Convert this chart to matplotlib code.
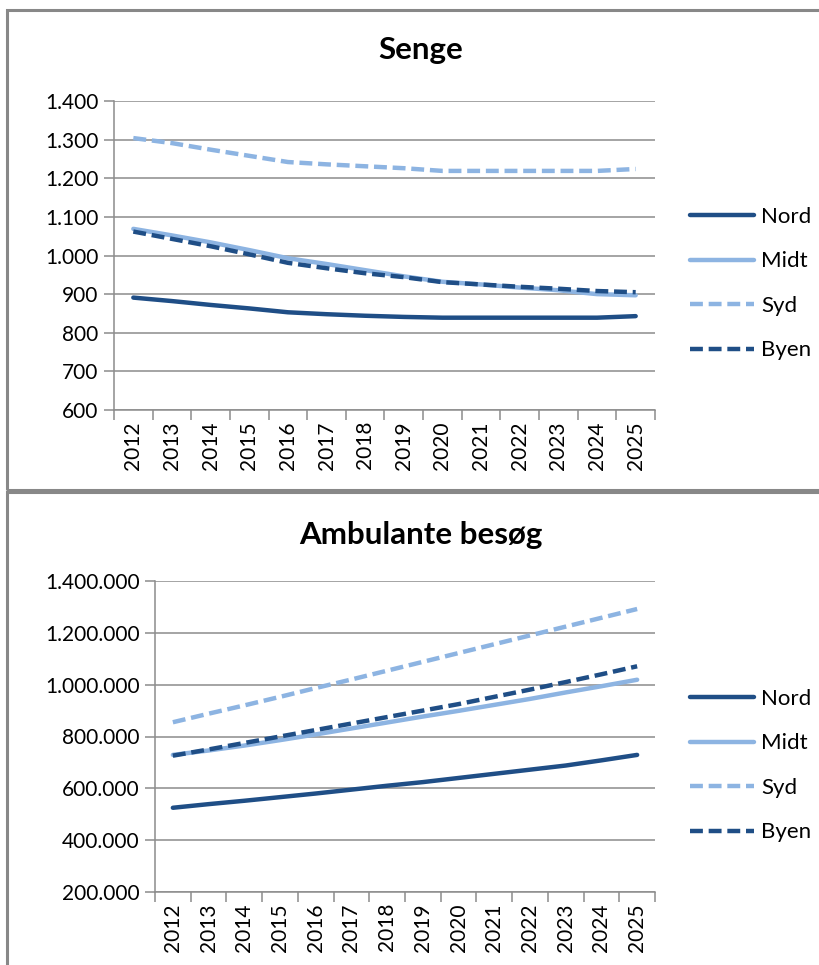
import matplotlib.pyplot as plt
import numpy as np
from matplotlib.patches import Rectangle
from matplotlib.ticker import FixedLocator, FuncFormatter

plt.rcParams['font.family'] = ['Lato', 'DejaVu Sans']

years = [str(y) for y in range(2012, 2026)]
regions = ["Nord", "Midt", "Syd", "Byen"]

# Senge (beds)
senge_nord = [891, 882, 872, 863, 853, 848, 844, 841, 839, 839, 839, 839, 839, 843]
senge_midt = [1069, 1052, 1034, 1014, 993, 978, 962, 946, 932, 925, 917, 910, 900, 897]
senge_syd = [1304, 1291, 1274, 1258, 1242, 1236, 1231, 1226, 1219, 1219, 1219, 1219, 1219, 1224]
senge_byen = [1062, 1043, 1024, 1003, 981, 967, 954, 944, 931, 925, 919, 914, 908, 905]

# Ambulante besøg (outpatient visits)
amb_nord = [525000, 539000, 552000, 566000, 580000, 595000, 610000, 624000,
            640000, 656000, 672000, 688000, 708000, 729000]
amb_midt = [729000, 746000, 765000, 786000, 808000, 831000, 854000, 877000,
            899000, 922000, 945000, 970000, 994000, 1019000]
amb_syd = [855000, 888000, 920000, 953000, 987000, 1020000, 1054000, 1088000,
           1122000, 1156000, 1190000, 1224000, 1258000, 1292000]
amb_byen = [726000, 750000, 775000, 800000, 825000, 850000, 875000, 900000,
            925000, 953000, 981000, 1010000, 1040000, 1071000]

DARK = "#1f4e86"
LIGHT = "#8db4e2"
GRID = "#8c8c8c"
styles = [(DARK, "-"), (LIGHT, "-"), (LIGHT, (0, (2.9, 1.3))), (DARK, (0, (2.9, 1.3)))]

W, H = 819, 965
fig = plt.figure(figsize=(W / 100, H / 100), dpi=100)


def fx(px):
    return px / W


def fy(py):
    return 1 - py / H


def thousands(v, pos):
    return "{:,}".format(int(round(v))).replace(",", ".")


def draw_panel(rect, title, title_y, series, ylim, ystep, legend_y):
    ax = fig.add_axes(rect)
    x = np.arange(len(years))
    lines = []
    for vals, (col, ls), name in zip(series, styles, regions):
        ln, = ax.plot(x, vals, color=col, linestyle=ls, lw=3.2,
                      solid_capstyle="round", dash_capstyle="butt", label=name)
        lines.append(ln)
    ax.set_xlim(-0.5, len(years) - 0.5)
    ax.set_ylim(*ylim)
    ax.set_yticks(np.arange(ylim[0], ylim[1] + 1, ystep))
    ax.yaxis.set_major_formatter(FuncFormatter(thousands))
    ax.yaxis.grid(True, color=GRID, lw=1.1)
    ax.set_axisbelow(True)
    ax.set_xticks(x)
    ax.set_xticklabels(years, rotation=90, fontsize=15)
    ax.xaxis.set_minor_locator(FixedLocator(np.arange(-0.5, len(years), 1.0)))
    ax.tick_params(axis="x", which="major", length=0, pad=8)
    ax.tick_params(axis="x", which="minor", length=7, color=GRID, width=1.1)
    ax.tick_params(axis="y", length=7, color=GRID, width=1.1, labelsize=15, pad=4)
    for s in ["top", "right"]:
        ax.spines[s].set_visible(False)
    for s in ["left", "bottom"]:
        ax.spines[s].set_color(GRID)
        ax.spines[s].set_linewidth(1.1)
    fig.text(fx(421), fy(title_y), title, ha="center", va="center",
             fontsize=22.5, fontweight="bold")
    fig.legend(handles=lines, loc="upper left",
               bbox_to_anchor=(fx(690), fy(legend_y)), frameon=False,
               fontsize=16, handlelength=2.9, handletextpad=0.3,
               labelspacing=1.1, borderpad=0, borderaxespad=0)
    return ax


draw_panel([fx(114), fy(410), fx(655) - fx(114), fy(101) - fy(410)],
           "Senge", 50,
           [senge_nord, senge_midt, senge_syd, senge_byen],
           (600, 1400), 100, 207)

draw_panel([fx(155), fy(892), fx(655) - fx(155), fy(581) - fy(892)],
           "Ambulante besøg", 535,
           [amb_nord, amb_midt, amb_syd, amb_byen],
           (200000, 1400000), 200000, 689)

# chart area borders
for top, bottom in [(10, 490), (492, 1000)]:
    fig.patches.append(Rectangle((fx(7), fy(bottom)), 1.2, fy(top) - fy(bottom),
                                 transform=fig.transFigure, fill=False,
                                 edgecolor="#888888", lw=2.2))

fig.savefig("out.png", dpi=100)
